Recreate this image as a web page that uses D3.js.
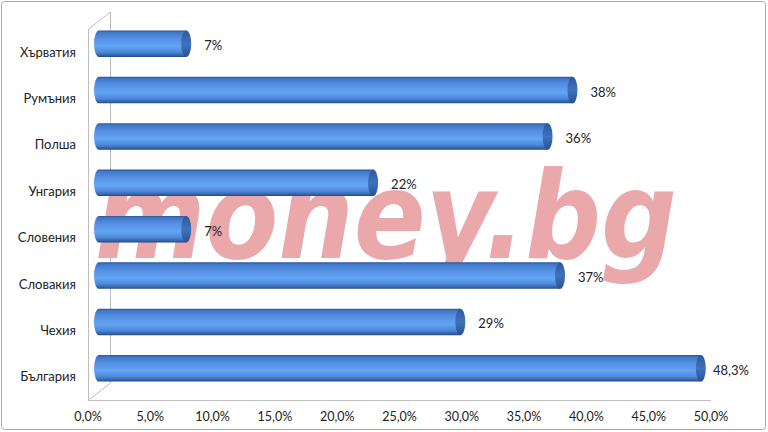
<!DOCTYPE html>
<html>
<head>
<meta charset="utf-8">
<script src="https://cdn.jsdelivr.net/npm/d3@7.9.0/dist/d3.min.js"></script>
<style>
  html, body { margin: 0; padding: 0; background: #fff; }
  svg { display: block; }
  text { font-family: "Lato", "Liberation Sans", sans-serif; fill: #222; }
</style>
</head>
<body>
<svg id="chart" width="768" height="432"></svg>
<script>
// data, top to bottom as in the chart
const countries = ['Хърватия', 'Румъния', 'Полша', 'Унгария', 'Словения', 'Словакия', 'Чехия', 'България'];
const shares = [7, 38, 36, 22, 7, 37, 29, 48.3];
const shareLabels = ['7%', '38%', '36%', '22%', '7%', '37%', '29%', '48,3%'];
const ticks = [0, 5, 10, 15, 20, 25, 30, 35, 40, 45, 50];

const svg = d3.select('#chart');

// front plane of the 3d box
const front = { left: 88, right: 711, top: 29, bottom: 400 };
const depth = { x: 22, y: -17 };   // offset to the back wall
const mid = { x: depth.x / 2, y: depth.y / 2 };

const x = d3.scaleLinear().domain([0, 50]).range([front.left, front.right]);
const y = d3.scaleBand().domain(countries).range([front.top, front.bottom]);

// outer frame
svg.append('rect')
  .attr('x', 1.5).attr('y', 1.5).attr('width', 764).attr('height', 428)
  .attr('rx', 3)
  .attr('fill', '#fff').attr('stroke', '#a9a9a9');

// gradients for cylinders
const defs = svg.append('defs');
const body = defs.append('linearGradient').attr('id', 'body')
  .attr('x1', 0).attr('y1', 0).attr('x2', 0).attr('y2', 1);
[['0%', '#2c5597'], ['8%', '#4079cb'], ['30%', '#5690e2'], ['60%', '#64a5f5'],
 ['82%', '#4d87d8'], ['94%', '#3463aa'], ['100%', '#24477e']].forEach(([o, c]) =>
  body.append('stop').attr('offset', o).attr('stop-color', c));
const cap = defs.append('linearGradient').attr('id', 'cap')
  .attr('x1', 0).attr('y1', 0).attr('x2', 0).attr('y2', 1);
[['0%', '#2e5899'], ['50%', '#3f73bd'], ['100%', '#2b5191']].forEach(([o, c]) =>
  cap.append('stop').attr('offset', o).attr('stop-color', c));

// walls
const wall = svg.append('g').attr('fill', 'none').attr('stroke', '#bdbdbd').attr('stroke-width', 1);
wall.append('path').attr('d',
  `M${front.left + 0.5},${front.top} L${front.left + depth.x + 0.5},${front.top + depth.y} ` +
  `L${front.left + depth.x + 0.5},${front.bottom + depth.y} L${front.left + 0.5},${front.bottom} Z`);
wall.append('line')
  .attr('x1', front.left).attr('x2', front.right)
  .attr('y1', front.bottom + 0.5).attr('y2', front.bottom + 0.5);

// watermark
svg.append('text')
  .attr('x', 95).attr('y', 258)
  .attr('textLength', 582).attr('lengthAdjust', 'spacingAndGlyphs')
  .style('font-family', '"DejaVu Sans", "Liberation Sans", sans-serif')
  .style('font-weight', 'bold').style('font-style', 'italic')
  .style('font-size', '122px')
  .style('fill', '#eaa8aa')
  .text('money.bg');

// bars as cylinders
const h = y.bandwidth() * 0.57;
const rx = 5;
const bars = svg.append('g').selectAll('g').data(countries).join('g');
bars.each(function (c, i) {
  const g = d3.select(this);
  const cy = y(c) + y.bandwidth() / 2 + mid.y;
  const x0 = x(0) + mid.x;
  const x1 = x(shares[i]) + mid.x;
  g.append('path')
    .attr('d', `M${x0},${cy - h / 2} L${x1},${cy - h / 2} L${x1},${cy + h / 2} L${x0},${cy + h / 2} ` +
      `A${rx},${h / 2} 0 0 1 ${x0},${cy - h / 2} Z`)
    .attr('fill', 'url(#body)');
  g.append('ellipse')
    .attr('cx', x1).attr('cy', cy).attr('rx', rx).attr('ry', h / 2)
    .attr('fill', 'url(#cap)');
  g.append('text')
    .attr('x', Math.min(x1 + rx + 13, 713))
    .attr('y', cy + 2)
    .attr('dy', '0.35em')
    .style('font-size', '13px')
    .text(shareLabels[i]);
});

// category labels
svg.append('g').selectAll('text').data(countries).join('text')
  .attr('x', 76)
  .attr('y', d => y(d) + y.bandwidth() / 2)
  .attr('dy', '0.35em')
  .attr('text-anchor', 'end')
  .style('font-size', '13px')
  .text(d => d);

// value axis labels
svg.append('g').selectAll('text').data(ticks).join('text')
  .attr('x', d => x(d))
  .attr('y', 417)
  .attr('dy', '0.35em')
  .attr('text-anchor', 'middle')
  .style('font-size', '12.5px')
  .text(d => d3.format('.1f')(d).replace('.', ',') + '%');
</script>
</body>
</html>
